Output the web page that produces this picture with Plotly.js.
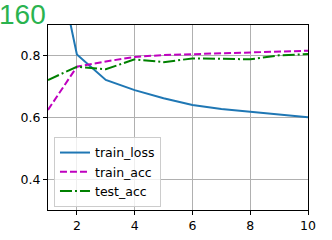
<!DOCTYPE html>
<html>
<head>
<meta charset="utf-8">
<script src="https://cdn.plot.ly/plotly-3.0.1.min.js"></script>
<style>html,body{margin:0;padding:0;background:#fff;}#chart{width:332px;height:240px;}</style>
</head>
<body>
<div id="chart"></div>
<script>
var epochs = [1, 2, 3, 4, 5, 6, 7, 8, 9, 10];
var trainLoss = [1.25, 0.805, 0.722, 0.689, 0.663, 0.641, 0.628, 0.619, 0.610, 0.601];
var trainAcc = [0.625, 0.765, 0.782, 0.797, 0.803, 0.806, 0.809, 0.811, 0.814, 0.817];
var testAcc = [0.722, 0.765, 0.757, 0.789, 0.780, 0.792, 0.791, 0.789, 0.802, 0.806];
var xTicks = [2, 4, 6, 8, 10];
var yTicks = [0.4, 0.6, 0.8];
var titleText = '160';

var font = 'DejaVu Sans, sans-serif';
var traces = [
  {x: epochs, y: trainLoss, name: 'train_loss', mode: 'lines', line: {color: '#1f77b4', width: 2}},
  {x: epochs, y: trainAcc, name: 'train_acc', mode: 'lines', line: {color: '#bf00bf', width: 2, dash: '7px,3px'}},
  {x: epochs, y: testAcc, name: 'test_acc', mode: 'lines', line: {color: '#008000', width: 2, dash: '12px,3px,2px,3px'}}
];
var axisCommon = {
  showline: true, mirror: true, linecolor: '#000', linewidth: 1,
  showgrid: true, gridcolor: '#b0b0b0', gridwidth: 1,
  ticks: 'outside', ticklen: 4, tickwidth: 1, tickcolor: '#000',
  tickfont: {family: font, size: 12.5, color: '#000'},
  zeroline: false, fixedrange: true
};
var layout = {
  width: 332, height: 240,
  margin: {l: 48, r: 24, t: 25, b: 30, pad: 0},
  paper_bgcolor: '#fff', plot_bgcolor: '#fff',
  showlegend: true,
  title: {
    text: titleText,
    font: {family: 'Liberation Sans, sans-serif', size: 28, color: '#2ab34f'},
    x: 0, xref: 'container', xanchor: 'left',
    y: 1, yref: 'container', yanchor: 'top',
    pad: {t: 4, l: -1}
  },
  xaxis: Object.assign({}, axisCommon, {range: [1, 10], tickvals: xTicks, ticktext: xTicks.map(String)}),
  yaxis: Object.assign({}, axisCommon, {range: [0.30, 0.9005], tickvals: yTicks, ticktext: yTicks.map(function(v){return v.toFixed(1);})}),
  legend: {
    x: 0.023, y: 0.395, xanchor: 'left', yanchor: 'top',
    bgcolor: 'rgba(255,255,255,0.8)', bordercolor: '#cccccc', borderwidth: 1,
    font: {family: font, size: 12.5, color: '#000'}
  }
};
Plotly.newPlot('chart', traces, layout, {staticPlot: true, displayModeBar: false});
</script>
</body>
</html>
